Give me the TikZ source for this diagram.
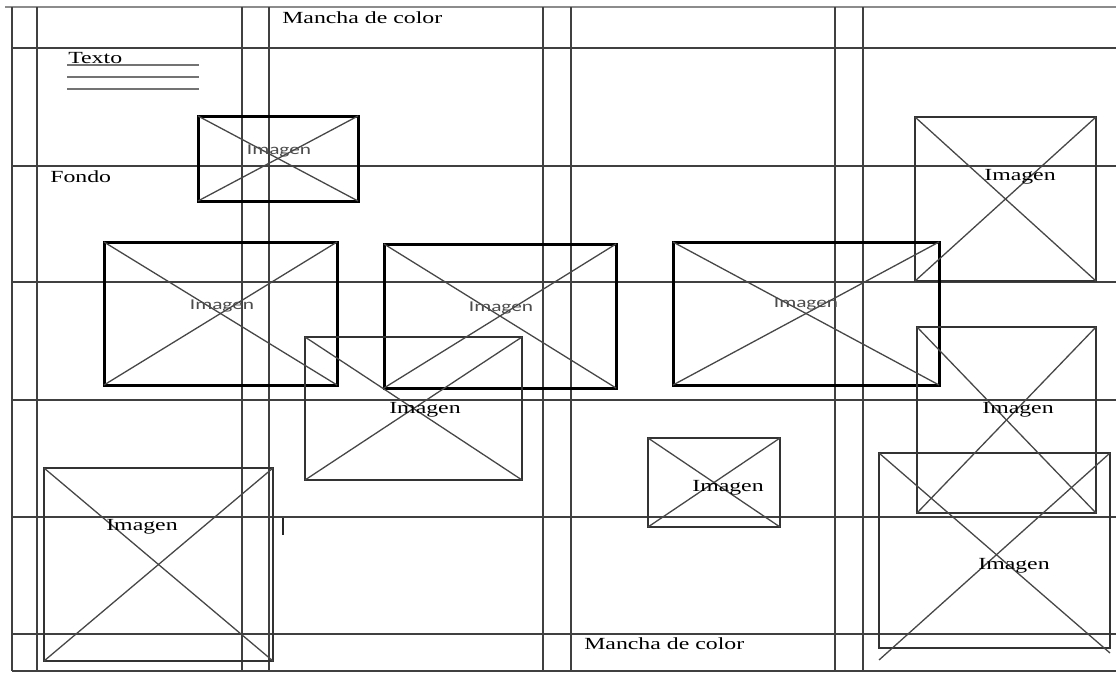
\documentclass[tikz,border=0pt]{standalone}
\usepackage{fontspec}
\setmainfont{Liberation Serif}
\newfontfamily\carl{Carlito}
\usetikzlibrary{calc}
\begin{document}
\begin{tikzpicture}[x=1pt,y=-1pt,
  gridline/.style={line width=1.6pt, draw=black!75},
  imgthick/.style={draw=black, line width=3pt, inner sep=0pt, outer sep=0pt},
  imgthin/.style={draw=black!80, line width=1.5pt, inner sep=0pt, outer sep=0pt},
  diag/.style={draw=black!72, line width=1.3pt},
  lab/.style={font=\fontsize{17}{19}\selectfont, xscale=1.4, inner sep=0pt, text=black},
  labsans/.style={font=\carl\fontsize{15}{17}\selectfont, xscale=1.42, inner sep=0pt, text=black!70},
  textline/.style={draw=black!55, line width=2pt},
]
\useasboundingbox (0,0) rectangle (1116,675);
% top border
\draw[draw=black!45, line width=2pt] (5,7) -- (1116,7);
% horizontal grid lines
\foreach \yy in {48,166,282,400,517,634,671}
  \draw[gridline] (12,\yy) -- (1116,\yy);
% vertical grid lines
\foreach \xx in {12,37,242,269,543,571,835,863}
  \draw[gridline] (\xx,7) -- (\xx,671);

% texts
\node[lab, anchor=base west] (mtop) at (282,23) {Mancha de color};
\node[lab, anchor=base west] (mbot) at (584,649) {Mancha de color};
\node[lab, anchor=base west] (texto) at (68,63) {Texto};
\node[lab, anchor=base west] (fondo) at (50,182) {Fondo};
\draw[textline] (67,65) -- (199,65);
\draw[textline] (67,77) -- (199,77);
\draw[textline] (67,89) -- (199,89);
% cursor
\draw[black!85, line width=2.5pt] (283,518) -- (283,535);

% image boxes
\node[imgthick, minimum width=160, minimum height=85] (A) at (278,158.5) {};
\node[imgthin, minimum width=181, minimum height=164] (B) at (1005.5,199) {};
\node[imgthick, minimum width=233, minimum height=143] (C) at (220.5,313.5) {};
\node[imgthick, minimum width=232, minimum height=144] (D) at (500,316) {};
\node[imgthick, minimum width=266, minimum height=143] (E) at (806,313.5) {};
\node[imgthin, minimum width=217, minimum height=143] (F) at (413.5,408.5) {};
\node[imgthin, minimum width=179, minimum height=186] (G) at (1006.5,420) {};
\node[imgthin, minimum width=132, minimum height=89] (H) at (714,482.5) {};
\node[imgthin, minimum width=231, minimum height=195] (I) at (994.5,550.5) {};
\node[imgthin, line width=2.2pt, minimum width=229, minimum height=193] (J) at (158.5,564.5) {};

\foreach \b in {A,B,C,D,E,F,G,H,J} {
  \draw[diag] (\b.north west) -- (\b.south east);
  \draw[diag] (\b.north east) -- (\b.south west);
}
\coordinate (Ise) at ($(I.south east)+(0,5)$);
\coordinate (Isw) at ($(I.south west)+(0,12)$);
\draw[diag] (I.north west) -- (Ise);
\draw[diag] (I.north east) -- (Isw);

% labels
\node[labsans] (lA) at (279,151) {Imagen};
\node[labsans] (lC) at (222,306) {Imagen};
\node[labsans] (lD) at (501,308) {Imagen};
\node[labsans] (lE) at (806,304) {Imagen};
\node[lab] (lB) at (1020,177) {Imagen};
\node[lab] (lF) at (425,410) {Imagen};
\node[lab] (lG) at (1018,410) {Imagen};
\node[lab] (lH) at (728,488) {Imagen};
\node[lab] (lI) at (1014,566) {Imagen};
\node[lab] (lJ) at (142,527) {Imagen};
\end{tikzpicture}
\end{document}
